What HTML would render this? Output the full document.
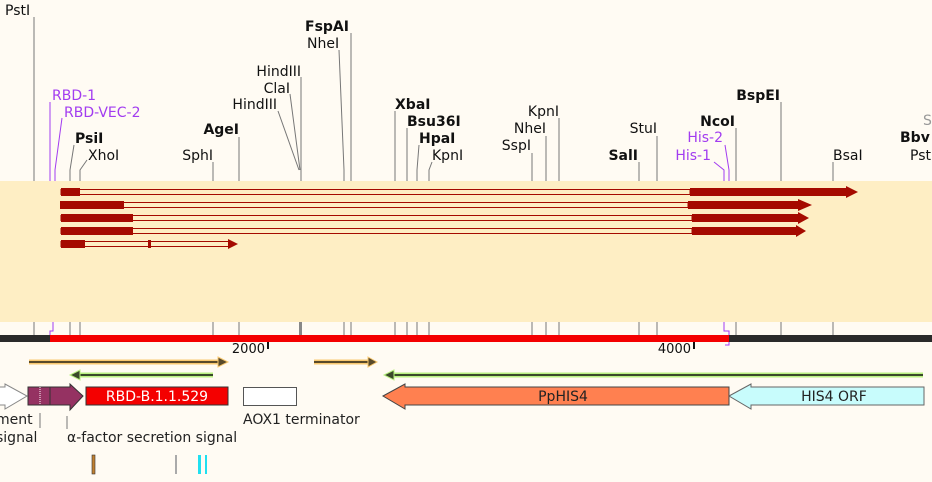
<!DOCTYPE html>
<html><head><meta charset="utf-8"><style>
body{margin:0;background:#fffbf3;}
svg{display:block;font-family:"DejaVu Sans","Liberation Sans",sans-serif;font-size:14px;}
.b{font-weight:bold;font-size:14px}
.p{fill:#a23cf0}
.e{text-anchor:end}
</style></head><body>
<svg width="932" height="482" viewBox="0 0 932 482">
<rect width="932" height="482" fill="#fffbf3"/>
<rect x="0" y="181" width="932" height="141" fill="#feeec4"/>
<g stroke="#777" stroke-width="1" fill="none">
<path d="M34 17V181M213 162V181M239 137V181M301 77V181M290 94L300 170M278 111L299 170M351 33V181M339 50L344 170V181M395 111V181M407 128V181M419 145L417 170V181M432 162L429 170V181M532 153V181M546 136V181M559 118V181M639 162V181M657 136V181M736 128V181M781 102V181M833 162V181M74 145L70 170V181M87 160L80 170V181"/>
<path d="M34 322V335M70 322V335M80 322V335M213 322V335M239 322V335M344 322V335M351 322V335M395 322V335M407 322V335M417 322V335M429 322V335M532 322V335M546 322V335M559 322V335M639 322V335M657 322V335M736 322V335M781 322V335M833 322V335"/>
</g>
<rect x="299" y="322" width="3" height="13" fill="#888"/>
<g stroke="#a23cf0" fill="none">
<path d="M50 102V181M62 118L55 170V181M714 162L724 170V181M725 145L729 170V181"/>
<path d="M53 322V331H50V341"/>
<path d="M724 322V331H729V345H725"/>
</g>
<g fill="#111">
<text x="5" y="15">PstI</text>
<text class="p" x="52" y="100">RBD-1</text>
<text class="p" x="64" y="117">RBD-VEC-2</text>
<text class="b" x="75" y="143">PsiI</text>
<text x="88" y="160">XhoI</text>
<text class="e" x="213" y="160">SphI</text>
<text class="b e" x="239" y="134">AgeI</text>
<text class="e" x="301" y="76">HindIII</text>
<text class="e" x="290" y="93">ClaI</text>
<text class="e" x="277" y="109">HindIII</text>
<text class="b" x="305" y="31">FspAI</text>
<text x="307" y="48">NheI</text>
<text class="b" x="395" y="109">XbaI</text>
<text class="b" x="407" y="126">Bsu36I</text>
<text class="b" x="419" y="143">HpaI</text>
<text x="432" y="160">KpnI</text>
<text class="e" x="531" y="150">SspI</text>
<text class="e" x="546" y="133">NheI</text>
<text class="e" x="559" y="116">KpnI</text>
<text class="b e" x="638" y="160">SalI</text>
<text class="e" x="657" y="133">StuI</text>
<text class="p e" x="711" y="160">His-1</text>
<text class="p e" x="723" y="142">His-2</text>
<text class="b e" x="735" y="126">NcoI</text>
<text class="b e" x="780" y="100">BspEI</text>
<text x="833" y="160">BsaI</text>
<text x="923" y="125" fill="#999">S</text>
<text class="b" x="900" y="142">Bbv</text>
<text x="910" y="160">Pst</text>
</g>
<g fill="#a50a00" stroke="#a50a00">
<rect x="61" y="189.5" width="629" height="5" fill="none"/><rect x="61" y="188" width="19" height="8" stroke="none"/><rect x="690" y="188" width="156" height="8" stroke="none"/><path d="M846 186L858 192L846 198Z" stroke="none"/>
<rect x="61" y="202.5" width="627" height="5" fill="none"/><rect x="60" y="201" width="64" height="8" stroke="none"/><rect x="688" y="201" width="110" height="8" stroke="none"/><path d="M798 199L812 205L798 211Z" stroke="none"/>
<rect x="61" y="215.5" width="631" height="5" fill="none"/><rect x="61" y="214" width="72" height="8" stroke="none"/><rect x="692" y="214" width="106" height="8" stroke="none"/><path d="M798 212L809 218L798 224Z" stroke="none"/>
<rect x="61" y="228.5" width="631" height="5" fill="none"/><rect x="61" y="227" width="72" height="8" stroke="none"/><rect x="692" y="227" width="104" height="8" stroke="none"/><path d="M796 225L806 231L796 237Z" stroke="none"/>
<rect x="61" y="241.5" width="168" height="5" fill="none"/><rect x="61" y="240" width="24" height="8" stroke="none"/><rect x="148" y="240" width="3" height="8" stroke="none"/><path d="M228 239L238 244L228 249Z" stroke="none"/>
</g>
<rect x="0" y="335" width="932" height="7" fill="#2a2a2a"/>
<rect x="50" y="335" width="679" height="7" fill="#f40000"/>
<rect x="267" y="342" width="2" height="7" fill="#111"/><text x="265" y="353" fill="#111" font-size="13" text-anchor="end">2000</text>
<rect x="693" y="342" width="2" height="7" fill="#111"/><text x="691" y="353" fill="#111" font-size="13" text-anchor="end">4000</text>
<g stroke-width="2">
<path d="M29 362H220" stroke="#f8c870" stroke-width="5"/><path d="M29 362H220" stroke="#594a2a"/><path d="M218 357L228 362L218 367Z" fill="#594a2a" stroke="#f8c870" stroke-width="1"/>
<path d="M314 362H370" stroke="#f8c870" stroke-width="5"/><path d="M314 362H370" stroke="#594a2a"/><path d="M368 357L377 362L368 367Z" fill="#594a2a" stroke="#f8c870" stroke-width="1"/>
<path d="M78 375H213" stroke="#b8f080" stroke-width="5"/><path d="M78 375H213" stroke="#3a4a2a"/><path d="M80 370L70 375L80 380Z" fill="#3a4a2a" stroke="#b8f080" stroke-width="1"/>
<path d="M392 375H923" stroke="#b8f080" stroke-width="5"/><path d="M392 375H923" stroke="#3a4a2a"/><path d="M394 370L384 375L394 380Z" fill="#3a4a2a" stroke="#b8f080" stroke-width="1"/>
</g>
<path d="M-2 387H5V384L27 396L5 409V405H-2Z" fill="#fff" stroke="#888"/>
<path d="M28 387H70V384L83 396L70 410V405H28Z" fill="#953262" stroke="#333"/>
<path d="M40 387V405" stroke="#fff" stroke-dasharray="1,1"/><path d="M50 387V405" stroke="#333"/>
<rect x="86" y="387" width="142" height="18" fill="#f40000" stroke="#333"/>
<text x="157" y="401" fill="#fff" text-anchor="middle">RBD-B.1.1.529</text>
<rect x="243.5" y="387.5" width="53" height="18" fill="#fff" stroke="#555"/>
<path d="M383 396L405 384V387H729V405H405V409Z" fill="#ff8050" stroke="#444"/>
<text x="563" y="401" fill="#222" text-anchor="middle">PpHIS4</text>
<path d="M729 396L751 384V387H924V405H751V409Z" fill="#c8fcfc" stroke="#666"/>
<text x="834" y="401" fill="#222" text-anchor="middle">HIS4 ORF</text>
<g fill="#222">
<text x="-4" y="424">ment</text><text x="-4" y="442">signal</text>
<text x="243" y="424">AOX1 terminator</text>
<text x="67" y="442">α-factor secretion signal</text>
</g>
<path d="M40 413V428M67 416V429" stroke="#777"/>
<rect x="92" y="455" width="3" height="19" fill="#c08030" stroke="#333" stroke-width=".6"/>
<rect x="175" y="455" width="2" height="19" fill="#aaa"/>
<rect x="198" y="455" width="3" height="19" fill="#20e0f0"/><rect x="205" y="455" width="2" height="19" fill="#20e0f0"/>
</svg>
</body></html>
